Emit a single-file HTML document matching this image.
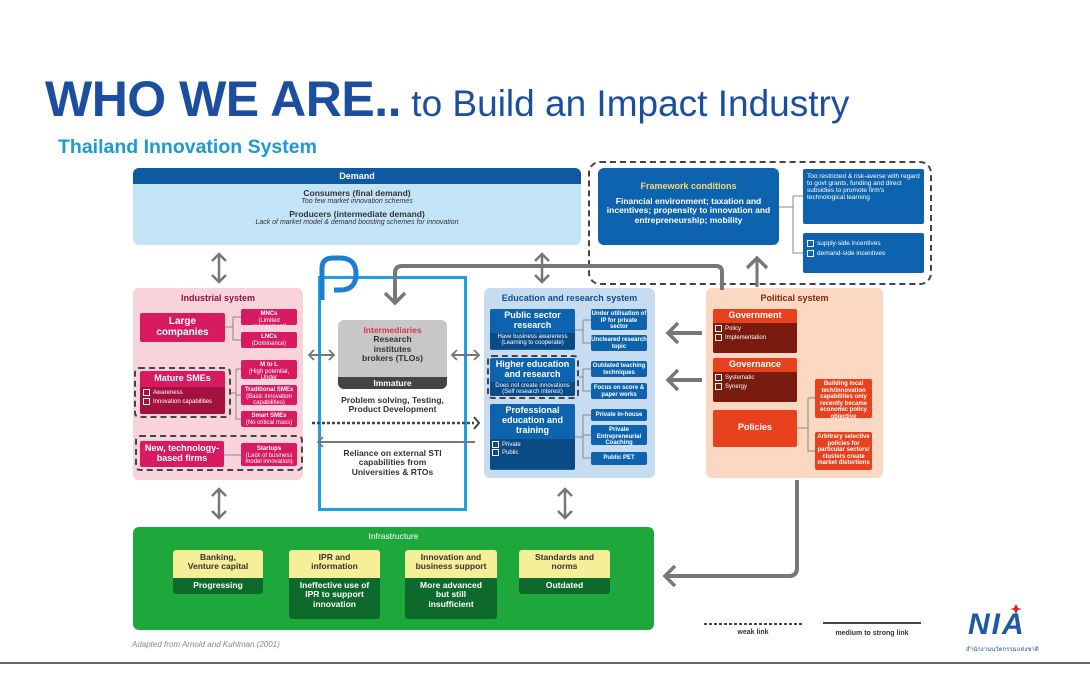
<!DOCTYPE html>
<html><head><meta charset="utf-8"><style>
*{margin:0;padding:0;box-sizing:border-box}
body{width:1090px;height:700px;background:#fff;position:relative;overflow:hidden;font-family:"Liberation Sans",Arial,sans-serif}
.a{position:absolute;text-align:center;font-weight:bold;color:#fff;line-height:1.1}
.pk{background:#d81b60;border-radius:2px}
.bl{background:#0e63ae;border-radius:2px}
.rd{background:#e8411e;border-radius:2px}
.dk{background:#7a1b10}
.t6{font-size:6px;font-weight:normal;overflow:hidden}
.ds{border:2px dashed #444;border-radius:5px}
.cb{display:inline-block;width:7px;height:7px;border:1px solid #fff;margin-right:3px;vertical-align:middle}
</style></head><body>
<div style="position:absolute;left:45px;top:70px;font-size:50px;font-weight:bold;color:#1c4e9f;letter-spacing:-0.5px;white-space:nowrap">WHO WE ARE..<span style="font-size:37px;font-weight:normal;letter-spacing:0"> to Build an Impact Industry</span></div>
<div style="position:absolute;left:58px;top:136px;font-size:19.5px;font-weight:bold;color:#1b9ad6">Thailand Innovation System</div>

<!-- Demand -->
<div class="a" style="left:133px;top:168px;width:448px;height:77px;background:#c3e4f7;border-radius:6px;overflow:hidden;color:#333">
<div style="background:#0d5aa2;color:#fff;font-size:9px;height:16px;line-height:16px">Demand</div>
<div style="font-size:8.5px;margin-top:5px">Consumers (final demand)</div>
<div style="font-size:7px;font-style:italic;font-weight:normal">Too few market innovation schemes</div>
<div style="font-size:8.5px;margin-top:4px">Producers (intermediate demand)</div>
<div style="font-size:7px;font-style:italic;font-weight:normal">Lack of market model &amp; demand boosting schemes for innovation</div>
</div>

<!-- Framework -->
<div class="ds" style="position:absolute;left:588px;top:161px;width:344px;height:124px;border-radius:12px"></div>
<div class="a bl" style="left:598px;top:168px;width:181px;height:77px;border-radius:6px;padding-top:14px">
<div style="font-size:9px;color:#f6d87a">Framework conditions</div>
<div style="font-size:8.5px;margin-top:5px">Financial environment; taxation and incentives; propensity to innovation and entrepreneurship; mobility</div></div>
<div class="a bl" style="left:803px;top:169px;width:121px;height:55px;text-align:left;padding:4px;font-size:6.5px;font-weight:normal">Too restricted &amp; risk-averse with regard to govt grants, funding and direct subsidies to promote firm's technological learning</div>
<div class="a bl" style="left:803px;top:233px;width:121px;height:40px;text-align:left;padding:6px 4px;font-size:6.5px;font-weight:normal;line-height:1.6"><span class="cb"></span>supply-side incentives<br><span class="cb"></span>demand-side incentives</div>

<!-- Industrial -->
<div class="a" style="left:133px;top:288px;width:170px;height:192px;background:#f8d3dc;border-radius:6px;color:#8a1240;font-size:9px;padding-top:6px">Industrial system</div>
<div class="a pk" style="left:140px;top:313px;width:85px;height:29px;font-size:10px;padding-top:3px">Large<br>companies</div>
<div class="a pk t6" style="left:241px;top:309px;width:56px;height:16px;padding-top:2px"><b>MNCs</b><br>(Limited engagement)</div>
<div class="a pk t6" style="left:241px;top:332px;width:56px;height:16px;padding-top:2px"><b>LNCs</b><br>(Dominance)</div>
<div class="a pk t6" style="left:241px;top:360px;width:56px;height:19px;padding-top:2px"><b>M to L</b><br>(High potential, Under representation)</div>
<div class="a pk t6" style="left:241px;top:385px;width:56px;height:20px;padding-top:2px"><b>Traditional SMEs</b><br>(Basic innovation capabilities)</div>
<div class="a pk t6" style="left:241px;top:411px;width:56px;height:16px;padding-top:2px"><b>Smart SMEs</b><br>(No critical mass)</div>
<div class="ds" style="position:absolute;left:134px;top:367px;width:97px;height:51px"></div>
<div class="a pk" style="left:140px;top:371px;width:85px;height:43px;overflow:hidden"><div style="font-size:9px;padding:3px 0">Mature SMEs</div><div class="t6" style="background:#a3123f;text-align:left;padding:2px 3px;line-height:1.5;height:28px"><span class="cb"></span>Awareness<br><span class="cb"></span>Innovation capabilities</div></div>
<div class="ds" style="position:absolute;left:135px;top:435px;width:168px;height:36px"></div>
<div class="a pk" style="left:140px;top:441px;width:84px;height:26px;font-size:9px;padding-top:3px">New, technology-<br>based firms</div>
<div class="a pk t6" style="left:241px;top:443px;width:56px;height:23px;padding-top:3px"><b>Startups</b><br>(Lack of business model innovation)</div>

<!-- Middle -->
<div style="position:absolute;left:318px;top:276px;width:149px;height:235px;border:3px solid #1ea0e0"></div>
<div class="a" style="left:338px;top:320px;width:109px;height:69px;background:#c7c7c7;border-radius:6px;overflow:hidden;color:#333;font-size:8.5px;padding-top:6px"><div style="color:#d8354a">Intermediaries</div>Research<br>institutes<br>brokers (TLOs)<div style="position:absolute;left:0;bottom:0;width:100%;height:12px;background:#444;color:#fff;line-height:12px">Immature</div></div>
<div class="a" style="left:325px;top:396px;width:135px;color:#333;font-size:8.5px">Problem solving, Testing,<br>Product Development</div>
<div class="a" style="left:325px;top:449px;width:135px;color:#333;font-size:8.5px">Reliance on external STI<br>capabilities from<br>Universities &amp; RTOs</div>

<!-- Education -->
<div class="a" style="left:484px;top:288px;width:171px;height:190px;background:#c7dcf1;border-radius:6px;color:#0d4f8f;font-size:9px;padding-top:6px">Education and research system</div>
<div class="a bl" style="left:490px;top:309px;width:85px;height:41px;overflow:hidden"><div style="font-size:9px;padding-top:2px">Public sector<br>research</div><div class="t6" style="background:#0a4a85;height:16px;margin-top:2px;padding-top:1px">Have business awareness<br>(Learning to cooperate)</div></div>
<div class="ds" style="position:absolute;left:487px;top:355px;width:92px;height:44px"></div>
<div class="a bl" style="left:490px;top:358px;width:85px;height:38px;overflow:hidden"><div style="font-size:9px;padding-top:2px">Higher education<br>and research</div><div class="t6" style="background:#0a4a85;height:14px;margin-top:2px;padding-top:1px">Does not create innovations<br>(Self research interest)</div></div>
<div class="a bl" style="left:490px;top:404px;width:85px;height:66px;overflow:hidden"><div style="font-size:9px;padding-top:2px">Professional<br>education and<br>training</div><div class="t6" style="background:#0a4a85;height:30px;margin-top:3px;text-align:left;padding:2px;line-height:1.4"><span class="cb"></span>Private<br><span class="cb"></span>Public</div></div>
<div class="a bl t6" style="left:591px;top:309px;width:56px;height:21px;padding-top:2px;font-weight:bold">Under utilisation of IP for private sector</div>
<div class="a bl t6" style="left:591px;top:335px;width:56px;height:16px;padding-top:2px;font-weight:bold">Uncleared research topic</div>
<div class="a bl t6" style="left:591px;top:361px;width:56px;height:16px;padding-top:2px;font-weight:bold">Outdated teaching techniques</div>
<div class="a bl t6" style="left:591px;top:383px;width:56px;height:16px;padding-top:2px;font-weight:bold">Focus on score &amp; paper works</div>
<div class="a bl t6" style="left:591px;top:409px;width:56px;height:12px;padding-top:3px;font-weight:bold">Private in-house</div>
<div class="a bl t6" style="left:591px;top:425px;width:56px;height:20px;padding-top:2px;font-weight:bold">Private Entrepreneurial Coaching</div>
<div class="a bl t6" style="left:591px;top:452px;width:56px;height:13px;padding-top:3px;font-weight:bold">Public PET</div>

<!-- Political -->
<div class="a" style="left:706px;top:288px;width:177px;height:190px;background:#fbd8c2;border-radius:6px;color:#7a2a10;font-size:9px;padding-top:6px">Political system</div>
<div class="a rd" style="left:713px;top:309px;width:84px;height:44px;overflow:hidden"><div style="font-size:9px;padding:2px 0">Government</div><div class="dk t6" style="text-align:left;padding:2px;line-height:1.5;height:30px"><span class="cb"></span>Policy<br><span class="cb"></span>Implementation</div></div>
<div class="a rd" style="left:713px;top:358px;width:84px;height:44px;overflow:hidden"><div style="font-size:9px;padding:2px 0">Governance</div><div class="dk t6" style="text-align:left;padding:2px;line-height:1.5;height:30px"><span class="cb"></span>Systematic<br><span class="cb"></span>Synergy</div></div>
<div class="a rd" style="left:713px;top:410px;width:84px;height:37px;font-size:9px;padding-top:13px">Policies</div>
<div class="a rd t6" style="left:815px;top:379px;width:57px;height:39px;padding-top:2px;font-weight:bold">Building local tech/innovation capabilities only recently became economic policy objective</div>
<div class="a rd t6" style="left:815px;top:432px;width:57px;height:38px;padding-top:2px;font-weight:bold">Arbitrary selective policies for particular sectors/ clusters create market distortions</div>

<!-- Infrastructure -->
<div class="a" style="left:133px;top:527px;width:521px;height:103px;background:#1ea83c;border-radius:6px;font-size:8.5px;font-weight:normal;padding-top:5px">Infrastructure</div>
<div class="a" style="left:173px;top:550px;width:90px;height:44px;background:#0e6a2a;border-radius:3px;overflow:hidden;font-size:8.5px"><div style="background:#f6ee98;color:#333;height:28px;padding-top:3px">Banking,<br>Venture capital</div><div style="padding-top:3px">Progressing</div></div>
<div class="a" style="left:289px;top:550px;width:91px;height:69px;background:#0e6a2a;border-radius:3px;overflow:hidden;font-size:8.5px"><div style="background:#f6ee98;color:#333;height:28px;padding-top:3px">IPR and<br>information</div><div style="padding-top:3px">Ineffective use of<br>IPR to support<br>innovation</div></div>
<div class="a" style="left:405px;top:550px;width:92px;height:69px;background:#0e6a2a;border-radius:3px;overflow:hidden;font-size:8.5px"><div style="background:#f6ee98;color:#333;height:28px;padding-top:3px">Innovation and<br>business support</div><div style="padding-top:3px">More advanced<br>but still<br>insufficient</div></div>
<div class="a" style="left:519px;top:550px;width:91px;height:44px;background:#0e6a2a;border-radius:3px;overflow:hidden;font-size:8.5px"><div style="background:#f6ee98;color:#333;height:28px;padding-top:3px">Standards and<br>norms</div><div style="padding-top:3px">Outdated</div></div>
<div style="position:absolute;left:132px;top:640px;font-size:8px;font-style:italic;color:#888">Adapted from Arnold and Kuhlman (2001)</div>

<!-- Legend & logo -->
<div class="a" style="left:704px;top:629px;width:98px;font-size:7px;color:#333">weak link</div>
<div class="a" style="left:823px;top:630px;width:98px;font-size:7px;color:#333">medium to strong link</div>
<div style="position:absolute;left:968px;top:608px;font-size:30px;font-weight:bold;font-style:italic;color:#1d5aa6;letter-spacing:2px">NIA</div>
<div style="position:absolute;left:966px;top:644px;font-size:6px;color:#1d5aa6;font-family:'Liberation Sans',sans-serif">สำนักงานนวัตกรรมแห่งชาติ</div>
<div style="position:absolute;left:0;top:662px;width:1090px;height:2px;background:#666"></div>

<svg width="1090" height="700" style="position:absolute;left:0;top:0" fill="none">
<defs>
<marker id="h" markerUnits="userSpaceOnUse" markerWidth="16" markerHeight="18" refX="9" refY="9" orient="auto-start-reverse"><path d="M2,2 L9,9 L2,16" stroke="#777" stroke-width="2.5" fill="none"/></marker>
<marker id="H" markerUnits="userSpaceOnUse" markerWidth="22" markerHeight="26" refX="13" refY="13" orient="auto-start-reverse"><path d="M3,3 L13,13 L3,23" stroke="#777" stroke-width="3.5" fill="none"/></marker>
<marker id="s" markerUnits="userSpaceOnUse" markerWidth="12" markerHeight="14" refX="7" refY="7" orient="auto-start-reverse"><path d="M2,2 L7,7 L2,12" stroke="#777" stroke-width="1.8" fill="none"/></marker>
</defs>
<g stroke="#777" stroke-width="2.5">
<path d="M219,254 V282" marker-start="url(#h)" marker-end="url(#h)"/>
<path d="M542,254 V282" marker-start="url(#h)" marker-end="url(#h)"/>
<path d="M219,489 V518" marker-start="url(#h)" marker-end="url(#h)"/>
<path d="M565,489 V518" marker-start="url(#h)" marker-end="url(#h)"/>
<path d="M309,355 H334" stroke-width="2" marker-start="url(#s)" marker-end="url(#s)"/>
<path d="M452,355 H479" stroke-width="2" marker-start="url(#s)" marker-end="url(#s)"/>
<path d="M757,287 V258" stroke-width="3" marker-end="url(#H)"/>
<path d="M702,333 H668" stroke-width="4" marker-end="url(#H)"/>
<path d="M702,380 H668" stroke-width="4" marker-end="url(#H)"/>
<path d="M722,290 V272 Q722,266 716,266 H402 Q395,266 395,273 V303" stroke-width="4" marker-end="url(#H)"/>
<path d="M797,480 V568 Q797,576 789,576 H665" stroke-width="4" marker-end="url(#H)"/>
<path d="M475,442 H318" stroke-width="2" marker-end="url(#s)"/>
</g>
<path d="M312,423 H474" stroke="#444" stroke-width="2.5" stroke-dasharray="3,2"/>
<path d="M474,417 L479,423 L474,429" stroke="#444" stroke-width="2"/>
<path d="M704,624 H802" stroke="#444" stroke-width="2" stroke-dasharray="3,2"/>
<path d="M823,623 H921" stroke="#444" stroke-width="2"/>
<g stroke="#888" stroke-width="1">
<path d="M225,327 H233 M233,317 V340 H241 M233,317 H241"/>
<path d="M231,393 H236 M236,369 V419 H241 M236,369 H241 M236,395 H241"/>
<path d="M224,455 H241"/>
<path d="M575,330 H583 M583,320 V343 H591 M583,320 H591"/>
<path d="M579,377 H583 M583,369 V391 H591 M583,369 H591"/>
<path d="M575,437 H583 M583,415 V458 H591 M583,415 H591 M583,435 H591"/>
<path d="M797,428 H808 M808,398 V451 H815 M808,398 H815"/>
<path d="M779,207 H793 M793,196 V253 H803 M793,196 H803"/>
</g>
<path d="M1016,604 l2,4 4,1 -4,1 -2,4 -2,-4 -4,-1 4,-1z" fill="#e02020"/>
<path d="M322,300 V268 Q322,258 333,258 H340 Q356,258 356,274 Q356,290 340,290 H334" stroke="#1e7fd0" stroke-width="5"/>
</svg>
</body></html>
